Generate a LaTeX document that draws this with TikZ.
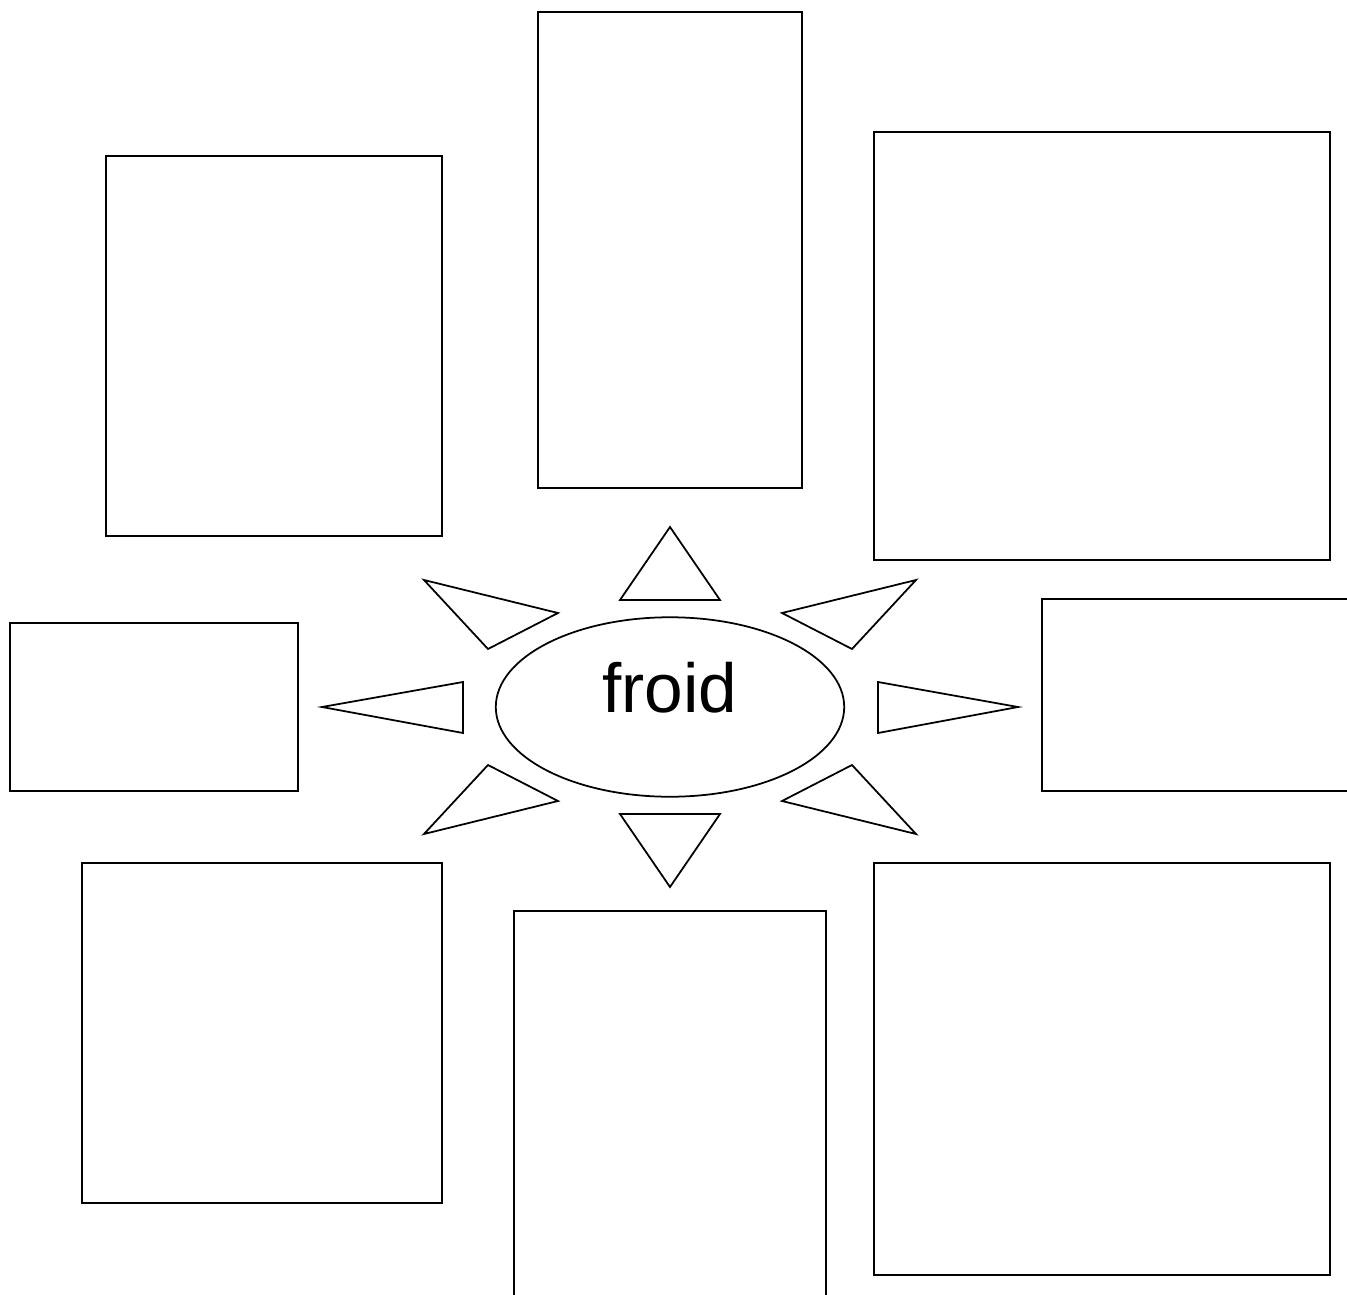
\documentclass[tikz,border=0pt]{standalone}
\usepackage{fontspec}
\setmainfont{Liberation Sans}
\usetikzlibrary{shapes.geometric}

\begin{document}
\begin{tikzpicture}[
    x=0.02cm, y=-0.02cm,
    box/.style={draw, line width=1.1pt},
    ray/.style={draw, line width=1pt, line join=miter},
    core/.style={ellipse, draw, line width=1pt, minimum width=6.97cm, minimum height=3.59cm, inner sep=0pt}
]

    \useasboundingbox (0,0) rectangle (1347,1295);
    \clip (0,0) rectangle (1347,1295);

    % Boxes ------------------------------------------------------

    \draw[box] (106,156) rectangle (442,536);
    \draw[box] (538,12) rectangle (802,488);
    \draw[box] (874,132) rectangle (1330,560);
    \draw[box] (10,623) rectangle (298,791);
    \draw[box] (1042,599) rectangle (1360,791);
    \draw[box] (82,863) rectangle (442,1203);
    \draw[box] (514,911) rectangle (826,1310);
    \draw[box] (874,863) rectangle (1330,1275);

    % Centre -----------------------------------------------------

    \node[core] (sun) at (670,707) {};
    \node[anchor=base, font=\fontsize{39.5}{47}\selectfont] (word) at (670,712) {froid};

    % Rays -------------------------------------------------------

    % Up and down
    \draw[ray] (670,527) -- (720,600) -- (620,600) -- cycle;
    \draw[ray] (670,887) -- (720,814) -- (620,814) -- cycle;

    % Left and right
    \draw[ray] (322,707) -- (463,682) -- (463,733) -- cycle;
    \draw[ray] (1018,707) -- (878,682) -- (878,733) -- cycle;

    % Upper diagonals
    \draw[ray] (424,580) -- (558,613) -- (488,649) -- cycle;
    \draw[ray] (916,580) -- (782,613) -- (852,649) -- cycle;

    % Lower diagonals
    \draw[ray] (424,834) -- (558,801) -- (488,765) -- cycle;
    \draw[ray] (916,834) -- (782,801) -- (852,765) -- cycle;

\end{tikzpicture}
\end{document}
